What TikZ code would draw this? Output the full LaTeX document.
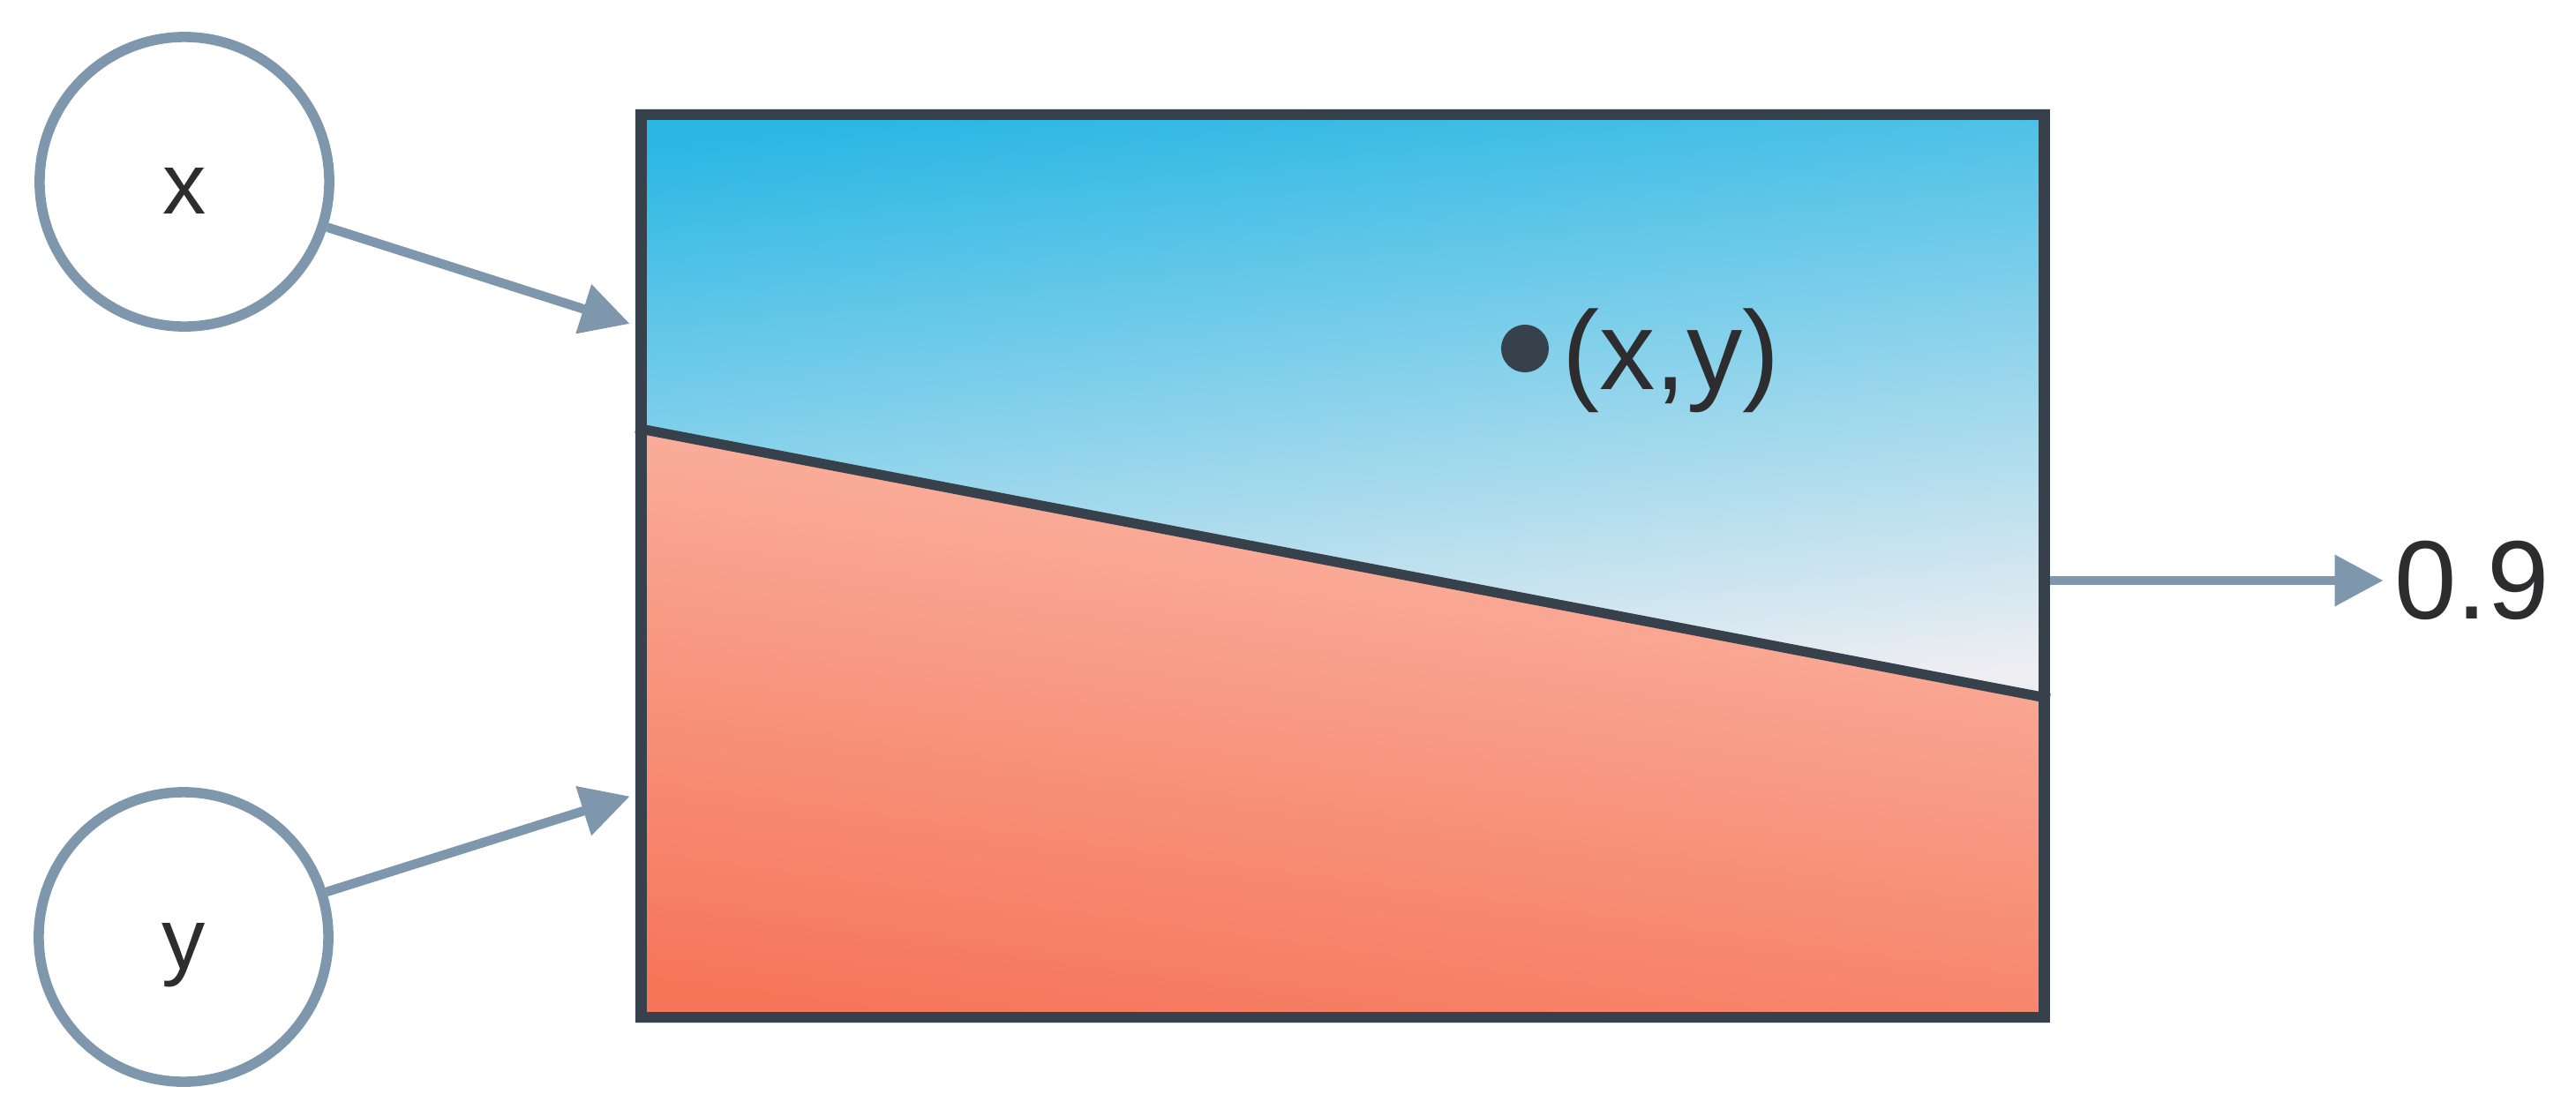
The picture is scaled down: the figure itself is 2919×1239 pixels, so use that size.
\documentclass[tikz,border=0pt]{standalone}
\usepackage{fontspec}
\setmainfont{Liberation Sans}
\usepackage{xcolor}
\usepackage{tikz}
\usetikzlibrary{arrows.meta,positioning,calc,backgrounds}
\definecolor{edgegray}{RGB}{127,151,172}
\definecolor{framedark}{RGB}{54,65,76}
\definecolor{textdark}{RGB}{45,45,48}
\definecolor{skyblue}{RGB}{42,183,228}
\definecolor{skypale}{RGB}{238,238,242}
\definecolor{salmonpale}{RGB}{250,188,172}
\definecolor{salmondeep}{RGB}{246,118,90}
\tikzset{
  inputnode/.style={
    circle,
    draw=edgegray,
    line width=3.3pt,
    minimum size=3.28cm,
    inner sep=0pt,
    text=textdark,
    font=\fontsize{28}{32}\selectfont,
    text height=21pt,
    text depth=0pt
  },
  planebox/.style={
    rectangle,
    draw=framedark,
    line width=3.5pt,
    minimum width=15.89cm,
    minimum height=10.23cm,
    inner sep=0pt
  },
  pointdot/.style={
    circle,
    fill=framedark,
    minimum size=0.54cm,
    inner sep=0pt
  },
  bigtext/.style={
    text=textdark,
    font=\fontsize{36}{40}\selectfont
  },
  flow/.style={-{Triangle[length=0.55cm, width=0.56cm]}, line width=3pt, edgegray}
}

\begin{document}
\begin{tikzpicture}[x=0.01cm, y=-0.01cm]
\useasboundingbox (0,0) rectangle (2919,1239);
\node[inputnode] (xin) at (209,206) {x};
\node[inputnode] (yin) at (208,1062) {y};
\node[planebox] (plane) at (1521.5,641.5) {};
\coordinate (cutl) at ($(plane.north west)!0.349!(plane.south west)$);
\coordinate (cutr) at ($(plane.north east)!0.645!(plane.south east)$);
\begin{scope}[on background layer]
\shade[top color=skyblue, bottom color=skypale, shading angle=6] (plane.north west) -- (plane.north east) -- (cutr) -- (cutl) -- cycle;
\shade[top color=salmonpale, bottom color=salmondeep, shading angle=-8] (cutl) -- (cutr) -- (plane.south east) -- (plane.south west) -- cycle;
\end{scope}
\draw[framedark, line width=3.2pt] (cutl) -- (cutr);
\node[pointdot] (pt) at (1728,395) {};
\node[bigtext, right=0.14cm of pt, yshift=-0.14cm, inner sep=0pt] (ptlabel) {(x,y)};
\node[bigtext] (out) at (2801,658) {0.9};
\coordinate (xend) at ($(plane.north west)!0.237!(plane.south west)$);
\coordinate (yend) at ($(plane.north west)!0.75!(plane.south west)$);
\draw[flow, shorten >=0.07cm] (xin) -- (xend);
\draw[flow, shorten >=0.07cm] (yin) -- (yend);
\draw[flow] (plane.east |- out) -- (out);
\end{tikzpicture}
\end{document}
